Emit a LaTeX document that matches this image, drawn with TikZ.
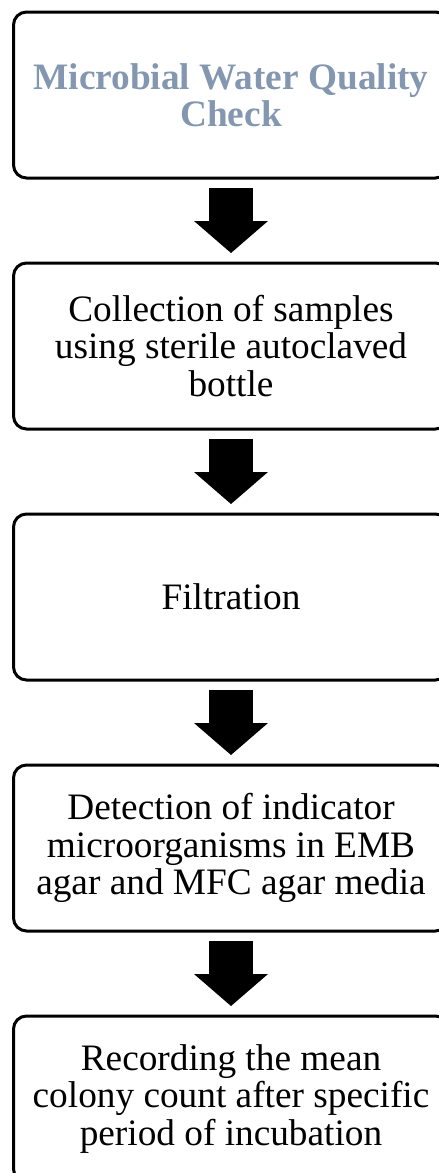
\documentclass[tikz,border=0pt]{standalone}
\usepackage{fontspec}
\setmainfont{Liberation Serif}
\usepackage{xcolor}
\usepackage{tikz}
\usetikzlibrary{arrows.meta,positioning}
\definecolor{titlegray}{HTML}{8497B0}

\begin{document}
\begin{tikzpicture}[
 x=1pt, y=1pt, node distance=82pt,
 font=\fontsize{37.3}{37.5}\selectfont,
 stage/.style={rectangle, rounded corners=13pt, draw=black, line width=3pt,
 minimum width=435pt, minimum height=166pt, align=center, text=black, inner sep=0pt},
 flow/.style={line width=44pt, shorten <=8.5pt, shorten >=8.5pt,
 -{Triangle[length=32pt, width=74pt, line width=0pt]}},
]
\clip (0,0) rectangle (439,-1173);
\node[stage, text=titlegray, font=\fontsize{37.3}{37.5}\selectfont\bfseries] (chk) at (231,-95)
 {Microbial Water Quality\\Check};
\node[stage, below=of chk] (col) {Collection of samples\\using sterile autoclaved\\bottle};
\node[stage, below=of col] (fil) {Filtration};
\node[stage, below=of fil] (det) {Detection of indicator\\microorganisms in EMB\\agar and MFC agar media};
\node[stage, below=of det] (rec) {Recording the mean\\colony count after specific\\period of incubation};
\draw[flow] (chk) -- (col);
\draw[flow] (col) -- (fil);
\draw[flow] (fil) -- (det);
\draw[flow] (det) -- (rec);
\end{tikzpicture}
\end{document}
